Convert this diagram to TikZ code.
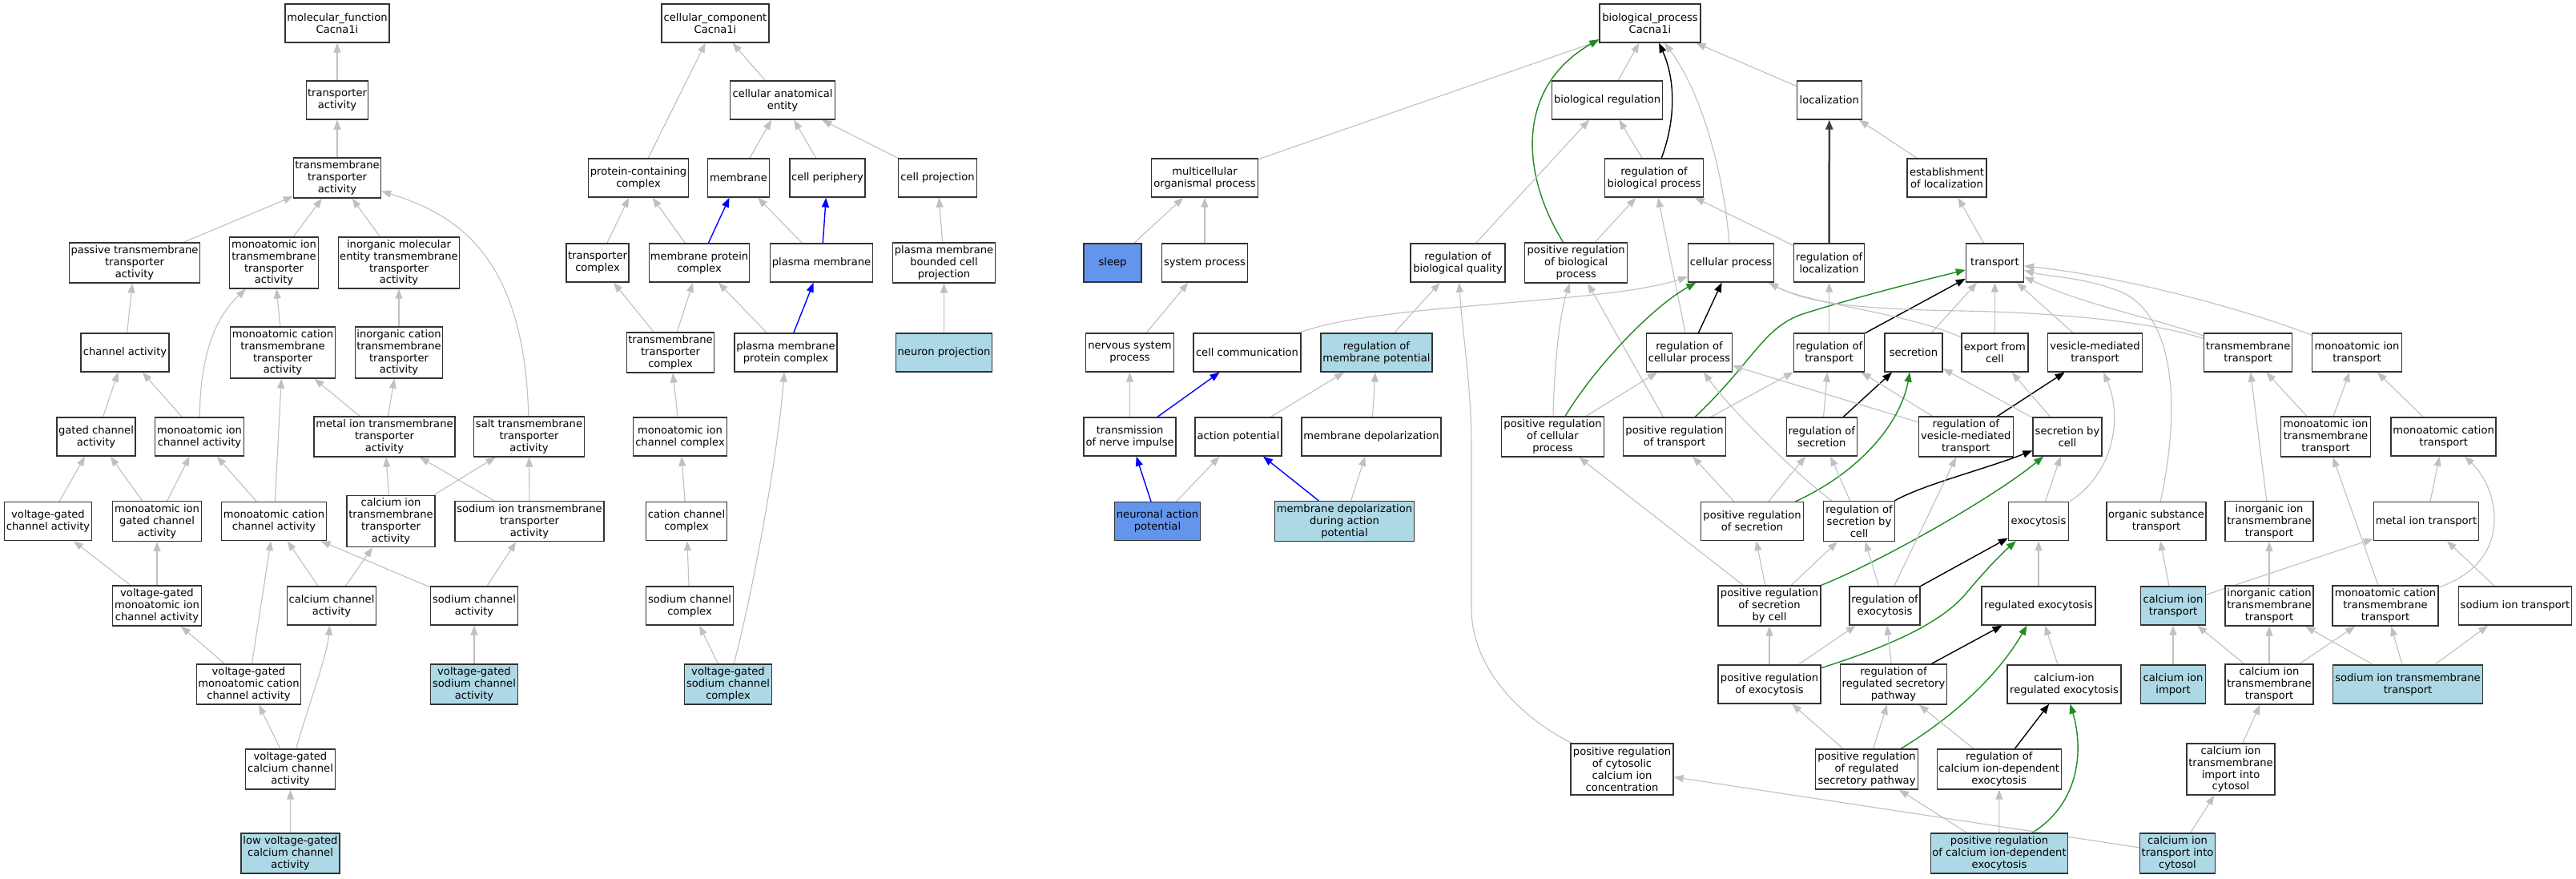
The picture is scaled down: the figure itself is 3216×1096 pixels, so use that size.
\documentclass[tikz,border=0pt]{standalone}
\usepackage{fontspec}
\setmainfont{DejaVu Sans}
\usetikzlibrary{arrows.meta,backgrounds}
\definecolor{edgegray}{HTML}{C0C0C0}
\definecolor{lblue}{HTML}{ADD8E6}
\definecolor{cblue}{HTML}{6495ED}
\definecolor{ggreen}{HTML}{228B22}
\definecolor{bblue}{HTML}{0000FF}
\newcommand{\gofont}{\fontsize{13.1pt}{14.9pt}\selectfont}
\begin{document}
\begin{tikzpicture}[x=1pt,y=-1pt,
  box/.style={draw=black!80, line width=1.3pt, fill=white, rectangle, align=center,
    inner xsep=1.5pt, inner ysep=2pt, minimum height=48pt, font=\gofont, text=black},
  lb/.style={fill=lblue}, cb/.style={fill=cblue},
  h3/.style={minimum height=50pt}, h4/.style={minimum height=64pt},
  ed/.style={draw=edgegray, line width=1.1pt, -{Triangle[length=12pt,width=9pt]}},
  edg/.style={ed, draw=ggreen, line width=1.4pt},
  edb/.style={ed, draw=bblue, line width=1.4pt},
  edk/.style={ed, draw=black, line width=1.4pt},
  edkk/.style={ed, draw=black!75, line width=2.5pt}]

% ---------------- molecular function ----------------
\node[box, minimum width=130pt] (mf) at (421,29) {molecular\_function\\Cacna1i};
\node[box, minimum width=77pt] (ta) at (421,125) {transporter\\activity};
\node[box, h3, minimum width=109pt] (tta) at (421,222) {transmembrane\\transporter\\activity};
\node[box, h3, minimum width=163pt] (ptta) at (168,328) {passive transmembrane\\transporter\\activity};
\node[box, h4, minimum width=111pt] (mitta) at (342,328) {monoatomic ion\\transmembrane\\transporter\\activity};
\node[box, h4, minimum width=151pt] (imetta) at (498,328) {inorganic molecular\\entity transmembrane\\transporter\\activity};
\node[box, minimum width=110pt] (chact) at (156,440) {channel activity};
\node[box, h4, minimum width=131pt] (mctta) at (353,440) {monoatomic cation\\transmembrane\\transporter\\activity};
\node[box, h4, minimum width=109pt] (ictta) at (498,440) {inorganic cation\\transmembrane\\transporter\\activity};
\node[box, minimum width=98pt] (gca) at (120,545) {gated channel\\activity};
\node[box, minimum width=111pt] (mica) at (249,545) {monoatomic ion\\channel activity};
\node[box, h3, minimum width=176pt] (mitra) at (480,545) {metal ion transmembrane\\transporter\\activity};
\node[box, h3, minimum width=138pt] (salt) at (660.5,545) {salt transmembrane\\transporter\\activity};
\node[box, minimum width=109pt] (vgca) at (60,650.5) {voltage-gated\\channel activity};
\node[box, h3, minimum width=111pt] (migca) at (196,650.5) {monoatomic ion\\gated channel\\activity};
\node[box, minimum width=131pt] (mcca) at (342,650.5) {monoatomic cation\\channel activity};
\node[box, h4, minimum width=110pt] (citta) at (488,650.5) {calcium ion\\transmembrane\\transporter\\activity};
\node[box, h3, minimum width=186pt] (sitta) at (661,650.5) {sodium ion transmembrane\\transporter\\activity};
\node[box, h3, minimum width=111pt] (vgmica) at (196,756) {voltage-gated\\monoatomic ion\\channel activity};
\node[box, minimum width=111pt] (cca) at (414,756) {calcium channel\\activity};
\node[box, minimum width=109pt] (sca) at (592,756) {sodium channel\\activity};
\node[box, h3, minimum width=130pt] (vgmcca) at (310.5,854) {voltage-gated\\monoatomic cation\\channel activity};
\node[box, h3, lb, minimum width=109pt] (vgsca) at (592,854) {voltage-gated\\sodium channel\\activity};
\node[box, h3, minimum width=112pt] (vgcca) at (362.5,960) {voltage-gated\\calcium channel\\activity};
\node[box, h3, lb, minimum width=123pt] (lvgcca) at (362.5,1065) {low voltage-gated\\calcium channel\\activity};

% ---------------- cellular component ----------------
\node[box, minimum width=134pt] (cc) at (893,29) {cellular\_component\\Cacna1i};
\node[box, minimum width=131pt] (cae) at (977,125) {cellular anatomical\\entity};
\node[box, minimum width=125pt] (pcc) at (797,222) {protein-containing\\complex};
\node[box, minimum width=77pt] (mem) at (922,222) {membrane};
\node[box, minimum width=94pt] (cp) at (1033,222) {cell periphery};
\node[box, minimum width=98pt] (cproj) at (1170.5,222) {cell projection};
\node[box, minimum width=78pt] (tc) at (746,328) {transporter\\complex};
\node[box, minimum width=125pt] (mpc) at (873,328) {membrane protein\\complex};
\node[box, minimum width=128pt] (pm) at (1025.5,328) {plasma membrane};
\node[box, h3, minimum width=128pt] (pmbcp) at (1178.5,328) {plasma membrane\\bounded cell\\projection};
\node[box, h3, minimum width=109pt] (ttc) at (837,440) {transmembrane\\transporter\\complex};
\node[box, minimum width=128pt] (pmpc) at (981,440) {plasma membrane\\protein complex};
\node[box, lb, minimum width=120pt] (np) at (1178.5,440) {neuron projection};
\node[box, minimum width=117pt] (micc) at (849,545) {monoatomic ion\\channel complex};
\node[box, minimum width=101pt] (ccc) at (857,650.5) {cation channel\\complex};
\node[box, minimum width=109pt] (scc) at (861,756) {sodium channel\\complex};
\node[box, h3, lb, minimum width=109pt] (vgscc) at (909,854) {voltage-gated\\sodium channel\\complex};

% ---------------- biological process ----------------
\node[box, minimum width=126pt] (bp) at (2060,29) {biological\_process\\Cacna1i};
\node[box, minimum width=138pt] (br) at (2006.6,125) {biological regulation};
\node[box, minimum width=81pt] (loc) at (2283.8,125) {localization};
\node[box, minimum width=133pt] (mop) at (1504,222) {multicellular\\organismal process};
\node[box, minimum width=123pt] (rbp) at (2065,222) {regulation of\\biological process};
\node[box, minimum width=99pt] (eol) at (2430.5,222) {establishment\\of localization};
\node[box, cb, minimum width=72pt] (sleep) at (1389,328) {sleep};
\node[box, minimum width=107pt] (sp) at (1504,328) {system process};
\node[box, minimum width=118pt] (rbq) at (1820,328) {regulation of\\biological quality};
\node[box, h3, minimum width=128pt] (prbp) at (1967.7,328) {positive regulation\\of biological\\process};
\node[box, minimum width=107pt] (cellp) at (2161,328) {cellular process};
\node[box, minimum width=88pt] (rol) at (2283.6,328) {regulation of\\localization};
\node[box, minimum width=72pt] (transport) at (2490.4,328) {transport};
\node[box, minimum width=110pt] (nsp) at (1410.5,440) {nervous system\\process};
\node[box, minimum width=134pt] (ccom) at (1557,440) {cell communication};
\node[box, lb, minimum width=139pt] (rmp) at (1718.4,440) {regulation of\\membrane potential};
\node[box, minimum width=107pt] (rcp) at (2109,440) {regulation of\\cellular process};
\node[box, minimum width=88pt] (rot) at (2283.6,440) {regulation of\\transport};
\node[box, minimum width=72pt] (secr) at (2389,440) {secretion};
\node[box, minimum width=83pt] (efc) at (2490.4,440) {export from\\cell};
\node[box, minimum width=118pt] (vmt) at (2615.5,440) {vesicle-mediated\\transport};
\node[box, minimum width=110pt] (tmt) at (2806.6,440) {transmembrane\\transport};
\node[box, minimum width=112pt] (mit) at (2942.5,440) {monoatomic ion\\transport};
\node[box, minimum width=115pt] (tni) at (1410.6,545) {transmission\\of nerve impulse};
\node[box, minimum width=108pt] (ap) at (1546,545) {action potential};
\node[box, minimum width=174pt] (md) at (1712,545) {membrane depolarization};
\node[box, h3, minimum width=128pt] (prcp) at (1938.5,545) {positive regulation\\of cellular\\process};
\node[box, minimum width=128pt] (prt) at (2090.5,545) {positive regulation\\of transport};
\node[box, minimum width=88pt] (ros) at (2274.3,545) {regulation of\\secretion};
\node[box, h3, minimum width=118pt] (rvmt) at (2454.3,545) {regulation of\\vesicle-mediated\\transport};
\node[box, minimum width=86pt] (sbc) at (2581,545) {secretion by\\cell};
\node[box, h3, minimum width=112pt] (mitt) at (2903.5,545) {monoatomic ion\\transmembrane\\transport};
\node[box, minimum width=131pt] (mct) at (3050.6,545) {monoatomic cation\\transport};
\node[box, cb, minimum width=107pt] (nap) at (1445,650.5) {neuronal action\\potential};
\node[box, h3, lb, minimum width=174pt] (mddap) at (1678.5,650.5) {membrane depolarization\\during action\\potential};
\node[box, minimum width=128pt] (prs) at (2187.5,650.5) {positive regulation\\of secretion};
\node[box, h3, minimum width=89pt] (rsbc) at (2321,650.5) {regulation of\\secretion by\\cell};
\node[box, minimum width=75pt] (exo) at (2545,650.5) {exocytosis};
\node[box, minimum width=124pt] (ost) at (2692,650.5) {organic substance\\transport};
\node[box, h3, minimum width=110pt] (iitt) at (2833,650.5) {inorganic ion\\transmembrane\\transport};
\node[box, minimum width=131pt] (mitr) at (3029,650.5) {metal ion transport};
\node[box, h3, minimum width=128pt] (prsbc) at (2209,756) {positive regulation\\of secretion\\by cell};
\node[box, minimum width=88pt] (roe) at (2353,756) {regulation of\\exocytosis};
\node[box, minimum width=142pt] (rexo) at (2545,756) {regulated exocytosis};
\node[box, lb, minimum width=81pt] (cit) at (2713,756) {calcium ion\\transport};
\node[box, h3, minimum width=110pt] (ictt) at (2833,756) {inorganic cation\\transmembrane\\transport};
\node[box, h3, minimum width=132pt] (mctt) at (2978,756) {monoatomic cation\\transmembrane\\transport};
\node[box, minimum width=141pt] (sit) at (3140,756) {sodium ion transport};
\node[box, minimum width=128pt] (proe) at (2209,854) {positive regulation\\of exocytosis};
\node[box, h3, minimum width=133pt] (rrsp) at (2364,854) {regulation of\\regulated secretory\\pathway};
\node[box, minimum width=142pt] (cire) at (2577,854) {calcium-ion\\regulated exocytosis};
\node[box, lb, minimum width=81pt] (cii) at (2713,854) {calcium ion\\import};
\node[box, h3, minimum width=110pt] (citt) at (2833,854) {calcium ion\\transmembrane\\transport};
\node[box, lb, minimum width=187pt] (sitt) at (3006,854) {sodium ion transmembrane\\transport};
\node[box, h4, minimum width=128pt] (pcd) at (2025,960) {positive regulation\\of cytosolic\\calcium ion\\concentration};
\node[box, h3, minimum width=128pt] (prrsp) at (2330.5,960) {positive regulation\\of regulated\\secretory pathway};
\node[box, h3, minimum width=155pt] (rcide) at (2495.7,960) {regulation of\\calcium ion-dependent\\exocytosis};
\node[box, h4, minimum width=110pt] (citic) at (2785,960) {calcium ion\\transmembrane\\import into\\cytosol};
\node[box, h3, lb, minimum width=171pt] (prcide) at (2496,1065) {positive regulation\\of calcium ion-dependent\\exocytosis};
\node[box, h3, lb, minimum width=94pt] (cittc) at (2718.5,1065) {calcium ion\\transport into\\cytosol};

\begin{pgfonlayer}{background}
\fill[white, use as bounding box] (0,0) rectangle (3216,1096);
% MF edges
\draw[ed] (ta) -- (mf);
\draw[ed] (tta) -- (ta);
\draw[ed] (ptta) -- (tta);
\draw[ed] (mitta) -- (tta);
\draw[ed] (imetta) -- (tta);
\draw[ed] (salt) .. controls (655,330) and (580,270) .. (tta);
\draw[ed] (chact) -- (ptta);
\draw[ed] (mctta) -- (mitta);
\draw[ed] (mica) .. controls (250,440) and (270,395) .. (mitta);
\draw[ed] (ictta) -- (imetta);
\draw[ed] (gca) -- (chact);
\draw[ed] (mica) -- (chact);
\draw[ed] (mitra) -- (mctta);
\draw[ed] (mcca) -- (mctta);
\draw[ed] (mitra) -- (ictta);
\draw[ed] (vgca) -- (gca);
\draw[ed] (migca) -- (gca);
\draw[ed] (migca) -- (mica);
\draw[ed] (mcca) -- (mica);
\draw[ed] (citta) -- (mitra);
\draw[ed] (sitta) -- (mitra);
\draw[ed] (citta) -- (salt);
\draw[ed] (sitta) -- (salt);
\draw[ed] (vgmica) -- (vgca);
\draw[ed] (vgmica) -- (migca);
\draw[ed] (vgmcca) -- (mcca);
\draw[ed] (cca) -- (mcca);
\draw[ed] (sca) -- (mcca);
\draw[ed] (cca) -- (citta);
\draw[ed] (vgmcca) -- (vgmica);
\draw[ed] (sca) -- (sitta);
\draw[ed] (vgcca) -- (vgmcca);
\draw[ed] (vgcca) .. controls (385,880) and (408,820) .. (cca);
\draw[ed] (vgsca) -- (sca);
\draw[ed] (lvgcca) -- (vgcca);
% CC edges
\draw[ed] (cae) -- (cc);
\draw[ed] (pcc) -- (cc);
\draw[ed] (mem) -- (cae);
\draw[ed] (cp) -- (cae);
\draw[ed] (cproj) -- (cae);
\draw[ed] (tc) -- (pcc);
\draw[ed] (mpc) -- (pcc);
\draw[edb] (mpc) -- (mem);
\draw[ed] (pm) -- (mem);
\draw[edb] (pm) -- (cp);
\draw[ed] (pmbcp) -- (cproj);
\draw[ed] (ttc) -- (tc);
\draw[ed] (ttc) -- (mpc);
\draw[ed] (pmpc) -- (mpc);
\draw[edb] (pmpc) -- (pm);
\draw[ed] (np) -- (pmbcp);
\draw[ed] (micc) -- (ttc);
\draw[ed] (ccc) -- (micc);
\draw[ed] (scc) -- (ccc);
\draw[ed] (vgscc) -- (scc);
\draw[ed] (vgscc) .. controls (935,760) and (970,580) .. (pmpc);
% BP edges
\draw[ed] (mop) -- (bp);
\draw[edg] (prbp) .. controls (1900,220) and (1890,110) .. ([yshift=-20pt]bp.west);
\draw[ed] (br) -- (bp);
\draw[edk] (rbp) .. controls (2092,150) and (2092,100) .. (bp);
\draw[ed] (cellp) .. controls (2150,200) and (2120,110) .. (bp);
\draw[ed] (loc) -- (bp);
\draw[ed] (sleep) -- (mop);
\draw[ed] (sp) -- (mop);
\draw[ed] (nsp) -- (sp);
\draw[ed] (tni) -- (nsp);
\draw[edb] (tni) -- (ccom);
\draw[ed] (ccom) .. controls (1720,378) and (2000,380) .. (cellp);
\draw[edb] (nap) -- (tni);
\draw[ed] (nap) -- (ap);
\draw[ed] (ap) -- (rmp);
\draw[ed] (md) -- (rmp);
\draw[edb] (mddap) -- (ap);
\draw[ed] (mddap) -- (md);
\draw[ed] (rmp) -- (rbq);
\draw[ed] (rbq) -- (br);
\draw[ed] (pcd) .. controls (1880,885) and (1837,820) .. (1837,760) -- (1837,560) .. controls (1837,480) and (1826,420) .. (rbq);
\draw[ed] (prbp) -- (rbp);
\draw[ed] (rbp) -- (br);
\draw[ed] (rol) -- (rbp);
\draw[ed] (rcp) -- (rbp);
\draw[edkk] (rol) -- (loc);
\draw[ed] (eol) -- (loc);
\draw[ed] (transport) -- (eol);
\draw[ed] (rot) -- (rol);
\draw[edk] (rot) -- (transport);
\draw[edg] (prt) .. controls (2190,450) and (2200,410) .. (2250,392) .. controls (2320,370) and (2400,350) .. (transport);
\draw[ed] (prt) -- (rot);
\draw[ed] (prt) -- (prbp);
\draw[ed] (prcp) .. controls (1940,470) and (1945,400) .. (prbp);
\draw[ed] (prcp) -- (rcp);
\draw[edg] (prcp) .. controls (1990,460) and (2060,385) .. (cellp);
\draw[edk] (rcp) -- (cellp);
\draw[ed] (efc) .. controls (2380,390) and (2260,380) .. (cellp);
\draw[ed] (tmt) .. controls (2680,400) and (2560,390) .. (2450,388) .. controls (2330,386) and (2260,380) .. (cellp);
\draw[ed] (secr) -- (transport);
\draw[ed] (efc) -- (transport);
\draw[ed] (vmt) -- (transport);
\draw[ed] (tmt) .. controls (2700,400) and (2600,380) .. (transport);
\draw[ed] (mit) .. controls (2800,385) and (2650,345) .. (transport);
\draw[ed] (ost) .. controls (2720,520) and (2720,400) .. (2650,365) .. controls (2600,345) and (2560,346) .. (transport);
\draw[ed] (ros) -- (rot);
\draw[edk] (ros) -- (secr);
\draw[ed] (rvmt) -- (rot);
\draw[edk] (rvmt) -- (vmt);
\draw[ed] (rvmt) -- (rcp);
\draw[ed] (sbc) -- (secr);
\draw[ed] (sbc) -- (efc);
\draw[ed] (exo) .. controls (2640,590) and (2650,520) .. (vmt);
\draw[ed] (prs) -- (prt);
\draw[ed] (prs) -- (ros);
\draw[edg] (prs) .. controls (2320,590) and (2372,530) .. (secr);
\draw[ed] (rsbc) -- (ros);
\draw[ed] (rsbc) .. controls (2240,590) and (2160,510) .. (rcp);
\draw[edk] (rsbc) .. controls (2400,605) and (2480,585) .. (sbc);
\draw[ed] (prsbc) -- (prcp);
\draw[ed] (prsbc) -- (prs);
\draw[ed] (prsbc) -- (rsbc);
\draw[edg] (prsbc) .. controls (2350,700) and (2490,620) .. (sbc);
\draw[ed] (roe) -- (rsbc);
\draw[ed] (roe) -- (rvmt);
\draw[edk] (roe) -- (exo);
\draw[ed] (exo) -- (sbc);
\draw[ed] (rexo) -- (exo);
\draw[ed] (proe) -- (prsbc);
\draw[ed] (proe) -- (roe);
\draw[edg] (proe) .. controls (2380,800) and (2430,770) .. (2455,740) .. controls (2480,710) and (2500,690) .. (exo);
\draw[ed] (rrsp) -- (roe);
\draw[edk] (rrsp) -- (rexo);
\draw[ed] (cire) -- (rexo);
\draw[ed] (prrsp) -- (proe);
\draw[ed] (prrsp) -- (rrsp);
\draw[edg] (prrsp) .. controls (2430,900) and (2490,850) .. (rexo);
\draw[ed] (rcide) -- (rrsp);
\draw[edk] (rcide) -- (cire);
\draw[ed] (prcide) -- (prrsp);
\draw[ed] (prcide) -- (rcide);
\draw[edg] (prcide) .. controls (2600,1000) and (2600,930) .. (cire);
\draw[ed] (cittc) -- (pcd);
\draw[ed] (cittc) -- (citic);
\draw[ed] (citic) -- (citt);
\draw[ed] (mitt) -- (tmt);
\draw[ed] (mitt) -- (mit);
\draw[ed] (mct) -- (mit);
\draw[ed] (iitt) -- (tmt);
\draw[ed] (mctt) -- (mitt);
\draw[ed] (mctt) .. controls (3140,700) and (3120,610) .. (mct);
\draw[ed] (mitr) -- (mct);
\draw[ed] (cit) -- (ost);
\draw[ed] (cit) -- (mitr);
\draw[ed] (ictt) -- (iitt);
\draw[ed] (sit) -- (mitr);
\draw[ed] (cii) -- (cit);
\draw[ed] (citt) -- (cit);
\draw[ed] (citt) -- (ictt);
\draw[ed] (citt) -- (mctt);
\draw[ed] (sitt) -- (ictt);
\draw[ed] (sitt) -- (mctt);
\draw[ed] (sitt) -- (sit);
\end{pgfonlayer}
\end{tikzpicture}
\end{document}
